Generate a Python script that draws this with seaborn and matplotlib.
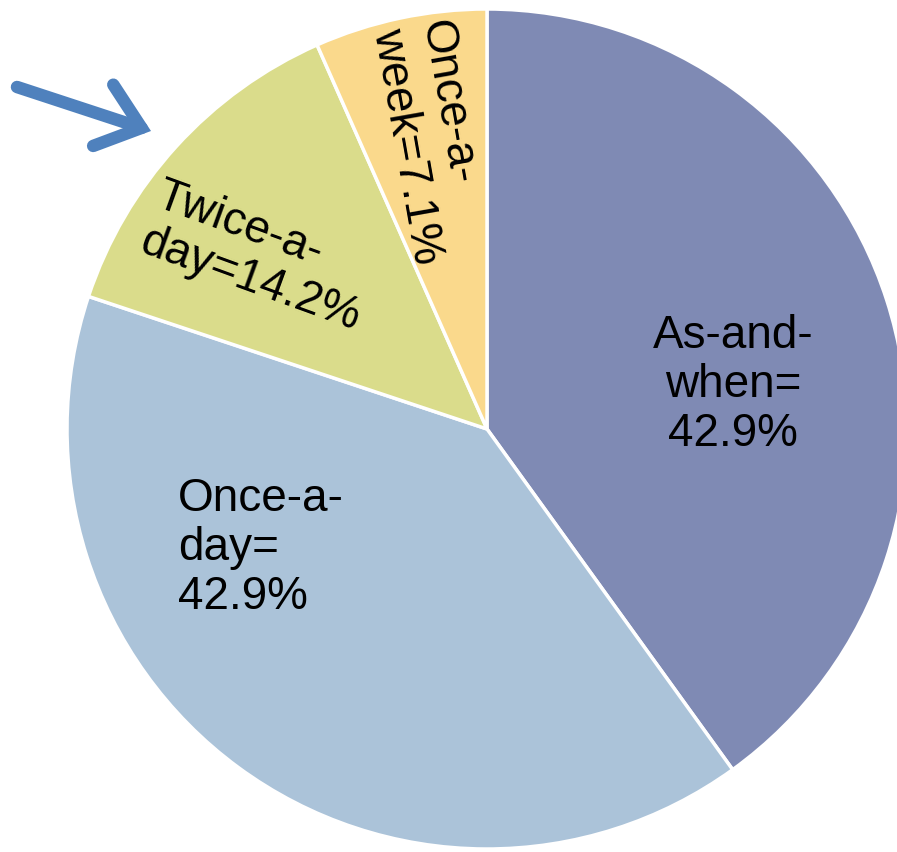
import matplotlib
matplotlib.use("Agg")
from matplotlib import pyplot as plt
import seaborn as sns

sns.set_style("white")
plt.rcParams['font.family'] = ['Liberation Sans', 'DejaVu Sans']

# data (labels show the values, the pie normalises them)
categories = ["As-and-when", "Once-a-day", "Twice-a-day", "Once-a-week"]
values = [42.9, 42.9, 14.2, 7.1]
labels = ["As-and-\nwhen=\n42.9%", "Once-a-\nday=\n42.9%", "Twice-a-\nday=14.2%", "Once-a-\nweek=7.1%"]

colors = sns.color_palette(["#7f8ab4", "#abc3d9", "#dadc8b", "#fad98c"])

W, H = 897, 853
CX, CY, R = 487, 430, 420  # pie centre and radius in pixels

fig = plt.figure(figsize=(W / 100, H / 100), dpi=100)
ax = fig.add_axes([0, 0, 1, 1])

wedges, _ = ax.pie(values, colors=colors, startangle=90, counterclock=False,
                   wedgeprops=dict(edgecolor="white", linewidth=2.5))

ax.set_xlim(-CX / R, (W - CX) / R)
ax.set_ylim(-(H - CY) / R, CY / R)
ax.set_aspect("auto")
ax.axis("off")

# label placement (data units, rotation, alignment)
label_style = [
    dict(x=0.586, y=0.107, rotation=0, ha="center", ma="center"),
    dict(x=-0.736, y=-0.281, rotation=0, ha="left", ma="left"),
    dict(x=-0.545, y=0.412, rotation=-20, ha="center", ma="left"),
    dict(x=-0.135, y=0.685, rotation=-80, ha="center", ma="left"),
]
for lab, st in zip(labels, label_style):
    ax.text(st["x"], st["y"], lab, rotation=st["rotation"], ha=st["ha"], va="center",
            multialignment=st["ma"], fontsize=33, color="black",
            rotation_mode="anchor", linespacing=1.15)

# blue arrow pointing at the Twice-a-day slice
ax.annotate("", xy=(151 / W, 1 - 132 / H), xytext=(17 / W, 1 - 88 / H),
            xycoords="figure fraction", textcoords="figure fraction",
            arrowprops=dict(arrowstyle="->,head_length=1.0,head_width=0.8",
                            mutation_scale=29, shrinkA=0, shrinkB=0,
                            color="#4f81bd", lw=9, capstyle="round",
                            joinstyle="miter"))

fig.savefig("out.png", dpi=100)
